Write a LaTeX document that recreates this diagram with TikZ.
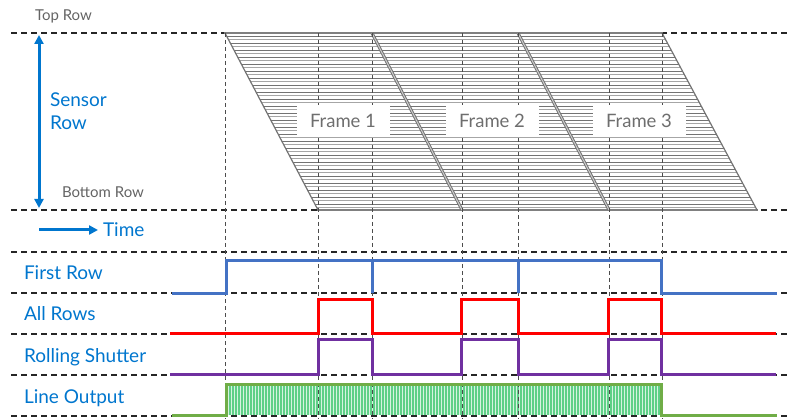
\documentclass[tikz,border=0pt]{standalone}
\usepackage{fontspec}
\setmainfont{Lato}
\usepackage{tikz}
\usetikzlibrary{arrows.meta}

\begin{document}
\begin{tikzpicture}[x=1pt,y=-1pt,line cap=rect,
    lbl/.style={inner sep=0, outer sep=0, anchor=base west},
    hdash/.style={line width=1.4pt, black!85, dash pattern=on 6pt off 4pt, line cap=butt},
    vdash/.style={line width=0.8pt, black!70, dash pattern=on 4pt off 3pt, line cap=butt},
    sig/.style={line width=3pt, line cap=butt, line join=miter},
    framebox/.style={fill=white, inner sep=0, minimum width=93pt, minimum height=32pt, text=custcol_frame}]
    \definecolor{custcol_blue}{RGB}{0, 118, 206}
    \definecolor{custcol_gray}{RGB}{100, 100, 100}
    \definecolor{custcol_frame}{RGB}{110, 110, 110}
    \definecolor{custcol_first}{RGB}{68, 114, 196}
    \definecolor{custcol_all}{RGB}{255, 0, 0}
    \definecolor{custcol_roll}{RGB}{112, 48, 160}
    \definecolor{custcol_line}{RGB}{112, 173, 71}
    \definecolor{custcol_fill}{RGB}{95, 208, 135}
    \useasboundingbox (0,0) rectangle (791,419);
    % hatched sensor rows
    \begin{scope}
        \clip (225,33) -- (662,33) -- (757,210) -- (318,210) -- cycle;
        \foreach \y in {36,43,...,209} \draw [line width=0.7pt, black!55] (220,\y) -- (760,\y);
        \foreach \y in {39.5,46.5,...,209} \draw [line width=0.7pt, black!35] (220,\y) -- (760,\y);
    \end{scope}
    % horizontal grid
    \foreach \y in {33,210,252,293,334,375,416} \draw [hdash] (11,\y) -- (791,\y);
    % frame borders
    \draw [line width=2pt, black!50] (225,33) -- (662,33);
    \draw [line width=2pt, black!50] (318,210) -- (757,210);
    \draw [line width=1.2pt, black!55] (225,33) -- (318,210);
    \draw [line width=1.2pt, black!55] (662,33) -- (757,210);
    \foreach \xa/\xb in {372/462, 518/609} {
        \draw [line width=3pt, black!55, line cap=butt] (\xa,33) -- (\xb,210);
        \draw [line width=1pt, black!20, line cap=butt] (\xa,33) -- (\xb,210);
    }
    % line output fill
    \fill [custcol_fill] (226,385) rectangle (661,415);
    \foreach \x in {228,231,...,660} \draw [white!75!custcol_fill, line width=0.8pt, line cap=butt] (\x,386) -- (\x,415);
    % vertical time marks
    \foreach \x in {225,318,372,462,518,609,662} \draw [vdash] (\x,33) -- (\x,419);
    % frame labels
    \node [framebox] (frame1) at (343,121) {\fontsize{18.5pt}{18.5pt}\selectfont Frame 1};
    \node [framebox] (frame2) at (492,121) {\fontsize{18.5pt}{18.5pt}\selectfont Frame 2};
    \node [framebox] (frame3) at (639,121) {\fontsize{18.5pt}{18.5pt}\selectfont Frame 3};
    % axes
    \coordinate (rowtop) at (39,35);
    \coordinate (rowbot) at (39,208);
    \draw [line width=3pt, custcol_blue, line cap=butt, {Triangle[length=9pt,width=9pt]}-{Triangle[length=9pt,width=9pt]}] (rowtop) -- (rowbot);
    \coordinate (tstart) at (39,230);
    \coordinate (tend) at (98,230);
    \draw [line width=3pt, custcol_blue, line cap=butt, -{Triangle[length=9pt,width=9pt]}] (tstart) -- (tend);
    \node [lbl, custcol_gray] (toprow) at (35,21) {\fontsize{15pt}{15pt}\selectfont Top Row};
    \node [lbl, custcol_gray] (botrow) at (62,198) {\fontsize{15pt}{15pt}\selectfont Bottom Row};
    \node [lbl, custcol_blue] (sensor) at (50,107) {\fontsize{19pt}{19pt}\selectfont Sensor};
    \node [lbl, custcol_blue] (sensorrow) at (50,130) {\fontsize{19pt}{19pt}\selectfont Row};
    \node [lbl, custcol_blue] (time) at (103,237) {\fontsize{19pt}{19pt}\selectfont Time};
    % signal names
    \node [lbl, custcol_blue] (firstrow) at (24,279) {\fontsize{19pt}{19pt}\selectfont First Row};
    \node [lbl, custcol_blue] (allrows) at (24,320) {\fontsize{19pt}{19pt}\selectfont All Rows};
    \node [lbl, custcol_blue] (rolling) at (24,362) {\fontsize{19pt}{19pt}\selectfont Rolling Shutter};
    \node [lbl, custcol_blue] (lineout) at (24,403) {\fontsize{19pt}{19pt}\selectfont Line Output};
    % signals
    \draw [sig, custcol_first] (172,293) -- (226,293) -- (226,261) -- (372,261) -- (372,293) -- (372,261) -- (518,261) -- (518,293) -- (518,261) -- (661,261) -- (661,293) -- (777,293);
    \draw [sig, custcol_all] (170,333) -- (318,333) -- (318,299) -- (372,299) -- (372,333) -- (461,333) -- (461,299) -- (518,299) -- (518,333) -- (608,333) -- (608,299) -- (661,299) -- (661,333) -- (776,333);
    \draw [sig, custcol_roll] (170,374) -- (318,374) -- (318,339) -- (372,339) -- (372,374) -- (461,374) -- (461,339) -- (518,339) -- (518,374) -- (608,374) -- (608,339) -- (661,339) -- (661,374) -- (776,374);
    \draw [sig, custcol_line] (172,415) -- (226,415) -- (226,384) -- (661,384) -- (661,415) -- (777,415);
\end{tikzpicture}
\end{document}
